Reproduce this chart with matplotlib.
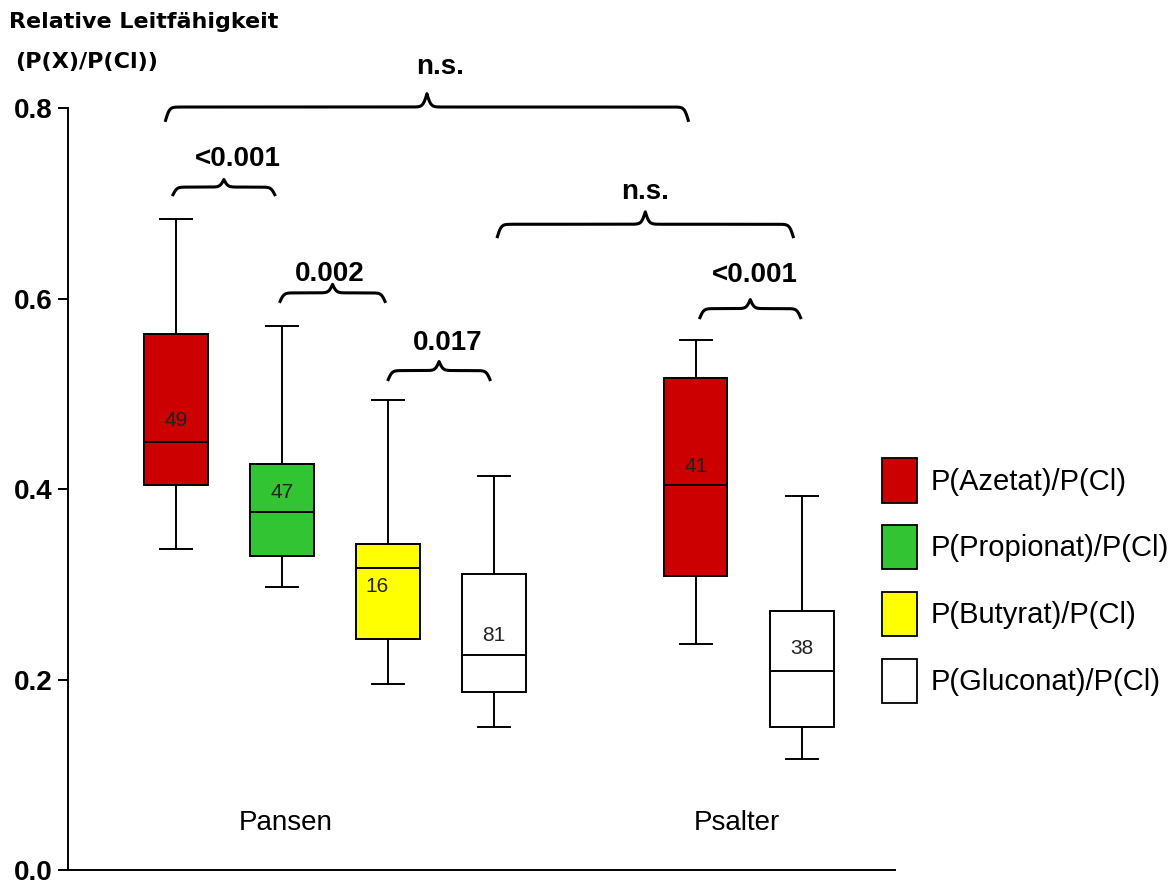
import numpy as np
import matplotlib.pyplot as plt
from matplotlib.patches import Patch

plt.rcParams['font.family'] = ['Liberation Sans', 'DejaVu Sans']

# box statistics
positions = [1, 2, 3, 4, 5.9, 6.9]
whislo = [0.337, 0.297, 0.196, 0.151, 0.238, 0.117]
q1 = [0.404, 0.330, 0.243, 0.187, 0.309, 0.151]
med = [0.450, 0.376, 0.317, 0.226, 0.404, 0.209]
q3 = [0.563, 0.426, 0.343, 0.311, 0.517, 0.272]
whishi = [0.684, 0.571, 0.494, 0.414, 0.557, 0.393]
counts = ['49', '47', '16', '81', '41', '38']
count_y = [0.472, 0.397, 0.298, 0.247, 0.424, 0.233]
count_x = [1, 2, 2.89, 4, 5.9, 6.9]
colors = ['#cc0000', '#33c433', '#ffff00', '#ffffff', '#cc0000', '#ffffff']

legend_labels = ['P(Azetat)/P(Cl)', 'P(Propionat)/P(Cl)', 'P(Butyrat)/P(Cl)', 'P(Gluconat)/P(Cl)']
legend_colors = ['#cc0000', '#33c433', '#ffff00', '#ffffff']

# braces: x0, x1, base y, height, label, label x, label y
braces = [
    (0.90, 5.83, 0.787, 0.028, 'n.s.', 3.49, 0.843),
    (0.97, 1.93, 0.709, 0.016, '<0.001', 1.58, 0.746),
    (1.98, 2.97, 0.597, 0.018, '0.002', 2.45, 0.626),
    (3.00, 3.96, 0.515, 0.019, '0.017', 3.56, 0.553),
    (4.03, 6.82, 0.665, 0.026, 'n.s.', 5.42, 0.712),
    (5.94, 6.89, 0.580, 0.019, '<0.001', 6.46, 0.625),
]

groups = ['Pansen', 'Psalter']
group_x = [2.03, 6.29]

wide_bold = ['DejaVu Sans', 'Liberation Sans']

fig = plt.figure(figsize=(11.75, 8.85), dpi=100)
ax = fig.add_axes([0.0579, 0.0164, 0.7038, 0.8616])

stats = []
for i in range(len(positions)):
    stats.append({'whislo': whislo[i], 'q1': q1[i], 'med': med[i],
                  'q3': q3[i], 'whishi': whishi[i], 'fliers': []})

bp = ax.bxp(stats, positions=positions, widths=0.6, patch_artist=True,
            showfliers=False,
            boxprops=dict(linewidth=1.4, edgecolor='black'),
            medianprops=dict(color='black', linewidth=1.4),
            whiskerprops=dict(color='black', linewidth=1.4),
            capprops=dict(color='black', linewidth=1.4))
for patch, c in zip(bp['boxes'], colors):
    patch.set_facecolor(c)

for x, y, t in zip(count_x, count_y, counts):
    ax.text(x, y, t, ha='center', va='center', fontsize=15, color='#222222', zorder=5)


def brace(ax, x0, x1, y, h):
    span = x1 - x0
    beta = 55.0
    xh = np.linspace(0, span / 2, 200)
    yh = 1 / (1 + np.exp(-beta * (xh - xh[0]))) + 1 / (1 + np.exp(-beta * (xh - xh[-1])))
    yy = np.concatenate((yh, yh[-2::-1]))
    xx = np.linspace(x0, x1, len(yy))
    ax.plot(xx, y + (yy - 0.5) * h, color='black', linewidth=2.2, clip_on=False)


for x0, x1, y, h, lab, lx, ly in braces:
    brace(ax, x0, x1, y, h)
    ax.text(lx, ly, lab, ha='center', va='center', fontsize=20, fontweight='bold',
            clip_on=False)

for g, gx in zip(groups, group_x):
    ax.text(gx, 0.05, g, ha='center', va='center', fontsize=20)

ax.set_xlim(-0.02, 7.78)
ax.set_ylim(0, 0.8)
ax.set_yticks([0.0, 0.2, 0.4, 0.6, 0.8])
ax.set_yticklabels(['0.0', '0.2', '0.4', '0.6', '0.8'], fontsize=20, fontweight='bold')
ax.set_xticks([])
ax.spines['top'].set_visible(False)
ax.spines['right'].set_visible(False)
ax.spines['left'].set_linewidth(1.4)
ax.spines['bottom'].set_linewidth(1.4)
ax.tick_params(axis='y', length=7, width=1.4, pad=4)

fig.text(0.008, 0.975, 'Relative Leitfähigkeit', fontsize=16, fontweight='bold',
         family=wide_bold, va='center')
fig.text(0.013, 0.930, '(P(X)/P(Cl))', fontsize=16, fontweight='bold',
         family=wide_bold, va='center')

handles = [Patch(facecolor=c, edgecolor='black', linewidth=1.3) for c in legend_colors]
ax.legend(handles, legend_labels, loc='upper left', bbox_to_anchor=(0.984, 0.541),
          frameon=False, fontsize=21, handlelength=1.22, handleheight=1.98,
          labelspacing=0.76, handletextpad=0.45, borderaxespad=0, borderpad=0)

fig.savefig('out.png', dpi=100)
